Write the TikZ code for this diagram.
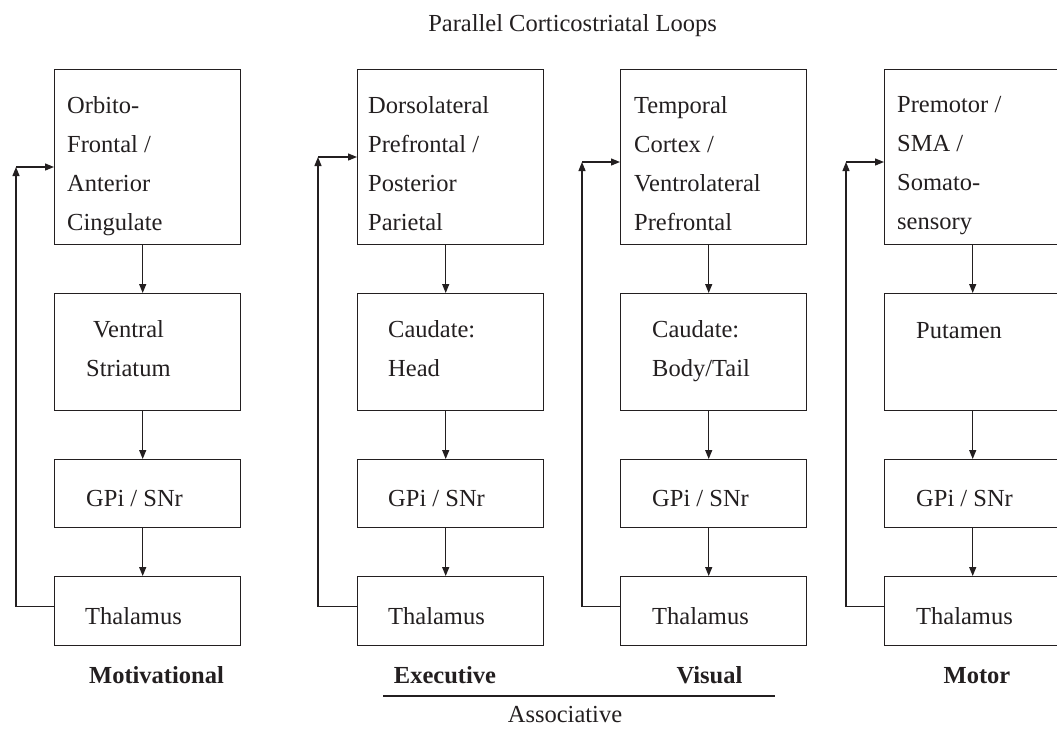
\documentclass[tikz,border=0pt]{standalone}
\usepackage{fontspec}
\setmainfont{Liberation Serif}
\usetikzlibrary{arrows.meta}
\definecolor{ink}{RGB}{35,31,32}
\begin{document}
\begin{tikzpicture}[x=1pt,y=-1pt,
  box/.style={draw=ink, line width=1.4pt, minimum width=186pt, inner sep=0pt, anchor=north west},
  topbox/.style={box, minimum height=175pt},
  strbox/.style={box, minimum height=117pt},
  gpibox/.style={box, minimum height=68pt},
  thalbox/.style={box, minimum height=69pt},
  lbl/.style={anchor=north west, inner sep=0pt, align=left, text=ink,
    font=\fontsize{24.5}{39}\selectfont, execute at begin node={\rule{0pt}{18pt}}},
  captxt/.style={anchor=base, inner sep=0pt, text=ink, font=\fontsize{24.5}{30}\selectfont},
  boldcap/.style={captxt, font=\fontsize{24.5}{30}\selectfont\bfseries},
  arr/.style={draw=ink, line width=1.2pt, -{Triangle[length=9pt,width=7pt]}},
  ruleline/.style={draw=ink, line width=1.3pt}
]
\useasboundingbox (0,0) rectangle (1057,729);
\clip (0,0) rectangle (1057,729);
\fill[white] (0,0) rectangle (1057,729);

% title
\node[captxt] (title) at (572.5,31) {Parallel Corticostriatal Loops};

% boxes
\foreach \i/\x in {1/54,2/357,3/620,4/884}{
  \node[topbox] (top\i) at (\x,69) {};
  \node[strbox] (str\i) at (\x,293) {};
  \node[gpibox] (gpi\i) at (\x,459) {};
  \node[thalbox] (th\i) at (\x,576) {};
}

% column 1
\node[lbl] (t1) at (67,96) {Orbito-\\Frontal /\\Anterior\\Cingulate};
\node[lbl] (s1) at (86,320) {\hspace*{7pt}Ventral\\Striatum};
\node[lbl] (g1) at (86,488) {GPi / SNr};
\node[lbl] (h1) at (85,606) {Thalamus};
% column 2
\node[lbl] (t2) at (368,96) {Dorsolateral\\Prefrontal /\\Posterior\\Parietal};
\node[lbl] (s2) at (388,320) {Caudate:\\Head};
\node[lbl] (g2) at (388,488) {GPi / SNr};
\node[lbl] (h2) at (388,606) {Thalamus};
% column 3
\node[lbl] (t3) at (634,96) {Temporal\\Cortex /\\Ventrolateral\\Prefrontal};
\node[lbl] (s3) at (652,320) {Caudate:\\Body/Tail};
\node[lbl] (g3) at (652,488) {GPi / SNr};
\node[lbl] (h3) at (652,606) {Thalamus};
% column 4
\node[lbl] (t4) at (897,96) {Premotor /\\SMA /\\Somato-\\sensory};
\node[lbl] (s4) at (916,320) {Putamen};
\node[lbl] (g4) at (916,488) {GPi / SNr};
\node[lbl] (h4) at (916,606) {Thalamus};

% downward connectors
\foreach \i in {1,2,3,4}{
  \draw[arr] ([xshift=-5pt]top\i.south) -- ([xshift=-5pt]str\i.north);
  \draw[arr] ([xshift=-5pt]str\i.south) -- ([xshift=-5pt]gpi\i.north);
  \draw[arr] ([xshift=-5pt]gpi\i.south) -- ([xshift=-5pt]th\i.north);
}

% feedback loops
\coordinate (c1) at (16,167);
\coordinate (c2) at (318,157);
\coordinate (c3) at (582,162);
\coordinate (c4) at (846,162);
\foreach \i in {1,2,3,4}{
  \draw[arr] ([yshift=4.5pt]th\i.west) -| (c\i);
  \draw[arr] (c\i) -- (c\i -| top\i.west);
}

% loop labels
\node[boldcap] (mot) at (156.5,683) {Motivational};
\node[boldcap] (exe) at (445,683) {Executive};
\node[boldcap] (vis) at (709.5,683) {Visual};
\node[boldcap] (mtr) at (977,683) {Motor};
\coordinate (al) at (383,696);
\coordinate (ar) at (775,696);
\draw[ruleline] (al) -- (ar);
\node[captxt] (asc) at (565,722) {Associative};
\end{tikzpicture}
\end{document}
